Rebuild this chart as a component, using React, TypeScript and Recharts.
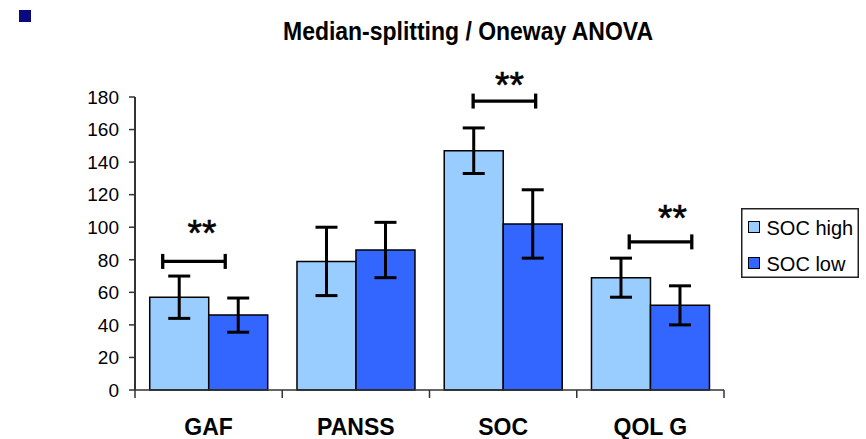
import { BarChart, Bar, XAxis, YAxis, ErrorBar, Legend, LabelList } from 'recharts'

const categories = ['GAF', 'PANSS', 'SOC', 'QOL G']
const socHigh = [57, 79, 147, 69]
const socHighErr = [13, 21, 14, 12]
const socLow = [46, 86, 102, 52]
const socLowErr = [10.5, 17, 21, 12]
const yTicks = [0, 20, 40, 60, 80, 100, 120, 140, 160, 180]

// significance marks (value level of bracket and stars)
const sigLabel = ['**', '', '**', '**']
const bracketLevel = [79, null, 177.5, 91]
const starsLevel = [100.5, null, 191.7, 110]
// bracket ends, in bar widths from the left edge of the "SOC high" bar
const bracketFrom = [0.22, 0, 0.49, 0.64]
const bracketTo = [1.28, 0, 1.55, 1.7]
const starsShift = [8, 0, 5, 12]

const HIGH = '#99CCFF'
const LOW = '#3366FF'
const FONT = '"Liberation Sans", Arial, sans-serif'

const data = categories.map((name, i) => ({
  name,
  high: socHigh[i],
  highErr: socHighErr[i],
  low: socLow[i],
  lowErr: socLowErr[i],
}))

const renderBracket = (props: any) => {
  const i = props.index
  const level = bracketLevel[i]
  if (level == null) return null
  const vb = props.viewBox || {}
  const x = Number(props.x ?? vb.x)
  const y = Number(props.y ?? vb.y)
  const w = Number(props.width ?? vb.width)
  const h = Number(props.height ?? vb.height)
  const v = socHigh[i]
  const base = y + h
  const py = (val: number) => base - (val * h) / v
  const by = py(level)
  const x1 = x + bracketFrom[i] * w
  const x2 = x + bracketTo[i] * w
  const sy = py(starsLevel[i] as number)
  return (
    <g key={`sig-${i}`}>
      <line x1={x1} x2={x2} y1={by} y2={by} stroke="#000" strokeWidth={3.3} />
      <line x1={x1} x2={x1} y1={by - 7.5} y2={by + 7.5} stroke="#000" strokeWidth={3.3} />
      <line x1={x2} x2={x2} y1={by - 7.5} y2={by + 7.5} stroke="#000" strokeWidth={3.3} />
      <text x={(x1 + x2) / 2 + starsShift[i]} y={sy + 20} textAnchor="middle" fontSize={37} fontFamily={FONT} fill="#000" stroke="#000" strokeWidth={0.6}>
        {sigLabel[i]}
      </text>
    </g>
  )
}

const CategoryTick = (props: any) => {
  const { x, y, payload, index } = props
  const half = payload && payload.offset ? payload.offset : 73.6
  return (
    <g>
      <line x1={x - half} x2={x - half} y1={y} y2={y + 8} stroke="#333" strokeWidth={1.5} />
      {index === categories.length - 1 && (
        <line x1={x + half} x2={x + half} y1={y} y2={y + 8} stroke="#333" strokeWidth={1.5} />
      )}
      <text x={x} y={y + 45} textAnchor="middle" fontSize={23} fontWeight="bold" fontFamily={FONT} fill="#000">
        {payload.value}
      </text>
    </g>
  )
}

const legendItems = [
  { name: 'SOC high', color: HIGH },
  { name: 'SOC low', color: LOW },
]

const renderLegend = () => (
  <svg width={118} height={70} style={{ display: 'block' }}>
    <rect x={0.75} y={0.75} width={116.5} height={68.5} fill="#fff" stroke="#222" strokeWidth={1.5} />
    {legendItems.map((it, i) => (
      <g key={it.name}>
        <rect x={7.5} y={13.5 + i * 36} width={11} height={11} fill={it.color} stroke="#000" strokeWidth={1} />
        <text x={25.5} y={26.5 + i * 36} fontSize={20} fontFamily={FONT} fill="#000">
          {it.name}
        </text>
      </g>
    ))}
  </svg>
)

export default function App() {
  return (
    <div style={{ position: 'absolute', left: 0, top: 0, width: 866, height: 439, background: '#fff' }}>
      <div style={{ position: 'absolute', left: 19, top: 10, width: 12, height: 12, background: '#0a0a80' }} />
      <svg width={866} height={50} style={{ position: 'absolute', left: 0, top: 0 }}>
        <text x={468} y={40} textAnchor="middle" fontSize={25} fontWeight="bold" fontFamily={FONT} textLength={370} lengthAdjust="spacingAndGlyphs" fill="#000">
          Median-splitting / Oneway ANOVA
        </text>
      </svg>
      <BarChart
        width={866}
        height={439}
        data={data}
        margin={{ top: 97, right: 142, bottom: 0, left: 0 }}
        barCategoryGap="10%"
        barGap={0}
        style={{ fontFamily: FONT }}
      >
        <XAxis
          dataKey="name"
          height={49}
          tickSize={0}
          tickMargin={0}
          tickLine={false}
          axisLine={{ stroke: '#333', strokeWidth: 1.5 }}
          tick={<CategoryTick />}
          interval={0}
        />
        <YAxis
          domain={[0, 180]}
          ticks={yTicks}
          interval={0}
          width={135}
          tickSize={6}
          tickMargin={10}
          axisLine={{ stroke: '#333', strokeWidth: 2 }}
          tickLine={{ stroke: '#333', strokeWidth: 1.5 }}
          tick={{ fill: '#000', fontSize: 19, fontFamily: FONT }}
        />
        <Legend
          layout="horizontal"
          verticalAlign="middle"
          align="center"
          content={renderLegend}
          wrapperStyle={{ position: 'absolute', left: 741, top: 208, width: 118, height: 70 }}
        />
        <Bar dataKey="high" name="SOC high" fill={HIGH} stroke="#000" strokeWidth={1.5} isAnimationActive={false}>
          <ErrorBar dataKey="highErr" width={11} strokeWidth={3} stroke="#000" isAnimationActive={false} />
          <LabelList dataKey="high" content={renderBracket} />
        </Bar>
        <Bar dataKey="low" name="SOC low" fill={LOW} stroke="#000" strokeWidth={1.5} isAnimationActive={false}>
          <ErrorBar dataKey="lowErr" width={11} strokeWidth={3} stroke="#000" isAnimationActive={false} />
        </Bar>
      </BarChart>
    </div>
  )
}
